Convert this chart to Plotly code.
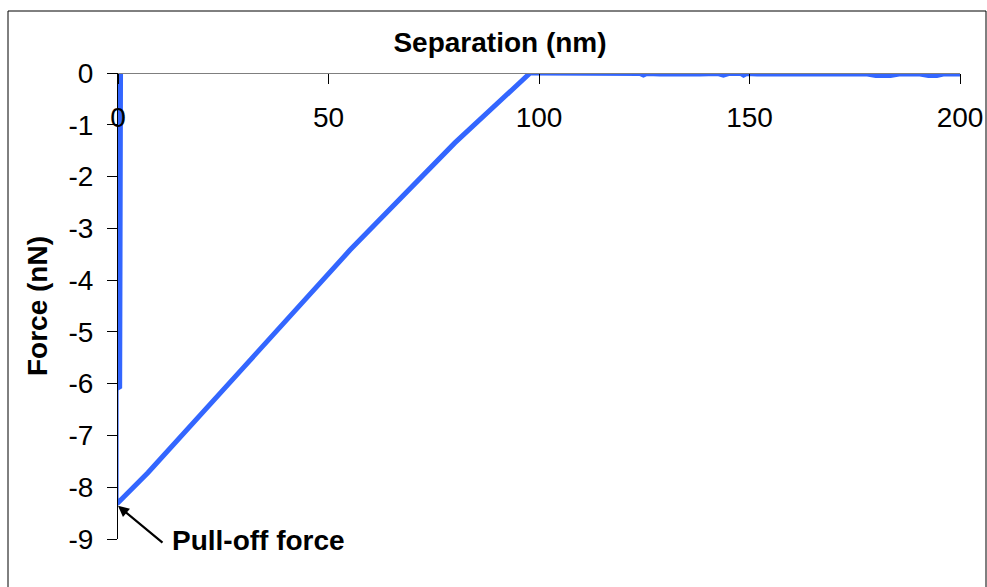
import plotly.graph_objects as go

# Retraction curve: tip separation (nm) vs. cantilever force (nN)
sep_nm = [0.6, 0.6, 0.4, 0.4, -0.45, -0.45, 0.0, 7.1, 30.0, 55.1, 80.0, 91.4, 97.9,
          98.6, 104.0, 105.5, 107.0, 110.5, 112.0, 113.8, 117.0, 124.0, 124.8, 125.6,
          128.7, 133.5, 138.2, 142.5, 143.8, 145.0, 148.0, 148.6, 149.3, 151.8, 178.0,
          180.0, 183.5, 185.5, 190.5, 192.5, 194.5, 196.0, 200.0]
force_nN = [0.0, -3.28, -3.30, -6.06, -6.10, -8.32, -8.30, -7.72, -5.67, -3.42, -1.35, -0.48, 0.0,
            0.0, 0.0, -0.02, 0.0, 0.0, -0.02, 0.0, -0.01, -0.01, -0.04, -0.01,
            -0.02, -0.03, -0.02, -0.01, -0.04, -0.01, -0.01, -0.04, -0.01, -0.02, -0.02,
            -0.05, -0.05, -0.02, -0.02, -0.05, -0.05, -0.02, -0.02]

x_ticks = [0, 50, 100, 150, 200]
x_tick_labels = ["0", "50", "100", "150", "200"]
y_ticks = [0, -1, -2, -3, -4, -5, -6, -7, -8, -9]
y_tick_labels = ["0", "-1", "-2", "-3", "-4", "-5", "-6", "-7", "-8", "-9"]

pull_off_sep = 0.0
pull_off_force = -8.36

FONT = "Arial, Liberation Sans, sans-serif"
TICK_SIZE = 28
TITLE_SIZE = 28

fig = go.Figure()
fig.add_trace(go.Scatter(
    x=sep_nm, y=force_nN, mode="lines",
    line=dict(color="#3366FF", width=5),
    hoverinfo="skip", showlegend=False,
))

fig.update_layout(
    width=987, height=587,
    margin=dict(l=118, r=27, t=73, b=48, autoexpand=False),
    paper_bgcolor="white", plot_bgcolor="white",
    font=dict(family=FONT, color="black", size=TICK_SIZE),
    title=dict(text="<b>Separation (nm)</b>", x=500 / 987, xref="container", xanchor="center",
               y=1 - 42 / 587, yref="container", yanchor="middle",
               font=dict(size=TITLE_SIZE, family=FONT, color="black")),
    # x axis crosses at force = 0, i.e. along the top of the plot, labels hanging below it
    xaxis=dict(
        range=[0, 200], anchor="free", position=1, side="bottom", automargin=False,
        showgrid=False, zeroline=False,
        showline=True, linecolor="#7f7f7f", linewidth=1,
        ticks="outside", ticklen=10, tickcolor="black", tickwidth=1,
        tickvals=x_ticks, ticktext=x_tick_labels, ticklabelstandoff=9,
        tickfont=dict(size=TICK_SIZE, family=FONT, color="black"),
    ),
    yaxis=dict(
        range=[-9, 0], automargin=False, showgrid=False, zeroline=False,
        showline=True, linecolor="black", linewidth=1,
        ticks="outside", ticklen=10, tickcolor="black", tickwidth=1,
        tickvals=y_ticks, ticktext=y_tick_labels, ticklabelstandoff=8,
        tickfont=dict(size=TICK_SIZE, family=FONT, color="black"),
        title=dict(text="<b>Force (nN)</b>", standoff=12,
                   font=dict(size=TITLE_SIZE, family=FONT, color="black")),
    ),
)

# Outer chart frame
fig.add_shape(type="rect", xref="paper", yref="paper",
              x0=(8 - 118) / 842, x1=(986 - 118) / 842,
              y0=-0.2, y1=(539 - 11) / 466,
              line=dict(color="black", width=1), fillcolor="rgba(0,0,0,0)", layer="below")

# Pull-off force callout
fig.add_annotation(x=pull_off_sep, y=pull_off_force, xref="x", yref="y",
                   text="", showarrow=True, ax=46, ay=38,
                   arrowhead=2, arrowsize=1, arrowwidth=2.2, arrowcolor="black", standoff=0)
fig.add_annotation(x=(170 - 118) / 842, y=(539.3 - 540.6) / 466, xref="paper", yref="paper",
                   text="<b>Pull-off force</b>",
                   showarrow=False, xanchor="left", yanchor="middle",
                   font=dict(size=TITLE_SIZE, family=FONT, color="black"))

fig.write_html("out.html")
